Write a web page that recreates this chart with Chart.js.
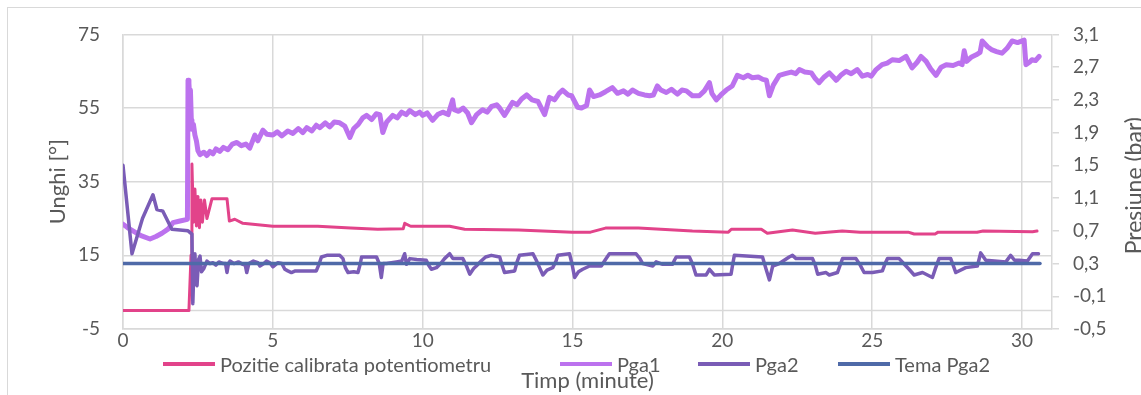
<!DOCTYPE html>
<html lang="ro">
<head>
  <meta charset="UTF-8">
  <title>Pozitie potentiometru si presiune</title>
  <script src="https://cdn.jsdelivr.net/npm/chart.js"></script>
  <style>
    body { margin: 0; background: #fff; font-family: Lato, sans-serif; }
    #wrap { position: relative; width: 1141px; height: 395px; overflow: hidden; }
    #frame { position: absolute; left: 7px; top: 7px; width: 1200px; height: 500px; border: 1.5px solid #d9d9d9; }
    #myChart { position: absolute; left: 0; top: 0; }
    #legend { position: absolute; left: 0; top: 352px; width: 1141px; height: 24px;
              font: 20px Lato, sans-serif; color: #595959; line-height: 24px; white-space: nowrap; }
    #legend .item { position: absolute; top: 0; display: flex; align-items: center; gap: 5px; }
    #legend .swatch { width: 52px; height: 4px; }
  </style>
</head>
<body>
<div id="wrap">
  <div id="frame"></div>
  <canvas id="myChart" width="1141" height="395"></canvas>
  <div id="legend"></div>
</div>

<script>
  // Pozitie calibrata potentiometru (unghi, axa stanga)
  const pozX = [0, 2.2, 2.27, 2.3, 2.35, 2.4, 2.45, 2.5, 2.55, 2.6, 2.65, 2.72, 2.8, 2.97, 3.47, 3.55, 3.73, 4.0,
    5.0, 6.5, 7.6, 8.5, 9.35, 9.4, 9.6, 10.9, 11.4, 13.2, 15.0, 15.6, 16.1, 17.2, 19.0, 20.2, 20.3, 21.3,
    21.5, 22.34, 23.1, 24.0, 24.6, 26.2, 26.4, 27.1, 27.2, 28.5, 28.7, 30.35, 30.5];
  const pozY = [0, 0, 15, 39.8, 24, 33, 23, 31, 22.5, 30, 24, 30, 25, 30.4, 30.4, 24.3, 24.8, 23.7,
    22.9, 22.9, 22.4, 22.1, 22.2, 23.7, 22.9, 22.9, 22.1, 21.9, 21.3, 21.3, 22.4, 22.4, 21.6, 21.3, 22.1, 22.1,
    21.0, 21.9, 21.0, 21.6, 21.3, 21.3, 20.8, 20.8, 21.3, 21.3, 21.6, 21.4, 21.6];

  // Pga1 (bar, axa dreapta)
  const pga1X = [0, 0.15, 0.33, 0.6, 0.9, 1.1, 1.3, 1.5, 1.67, 1.9, 2.15, 2.17, 2.2, 2.23, 2.25, 2.28, 2.3, 2.35, 2.4,
    2.45, 2.5, 2.57, 2.7, 2.8, 2.9, 3.0, 3.1, 3.23, 3.35, 3.5, 3.65, 3.8, 3.95, 4.1, 4.23, 4.4, 4.5, 4.67, 4.8,
    5.0, 5.15, 5.3, 5.5, 5.67, 5.85, 6.0, 6.13, 6.3, 6.45, 6.57, 6.75, 6.9, 7.05, 7.23, 7.4, 7.57, 7.7, 7.85,
    8.0, 8.13, 8.3, 8.45, 8.57, 8.67, 8.8, 9.0, 9.15, 9.3, 9.45, 9.57, 9.75, 9.9, 10.0, 10.15, 10.33, 10.5,
    10.67, 10.85, 11.0, 11.05, 11.2, 11.35, 11.5, 11.63, 11.8, 12.0, 12.15, 12.3, 12.47, 12.57, 12.73, 12.85,
    13.0, 13.15, 13.3, 13.47, 13.65, 13.85, 14.07, 14.23, 14.4, 14.55, 14.67, 14.85, 14.97, 15.17, 15.3,
    15.47, 15.57, 15.7, 15.9, 16.1, 16.33, 16.5, 16.7, 16.85, 17.0, 17.2, 17.4, 17.57, 17.7, 17.83, 17.95,
    18.13, 18.3, 18.5, 18.65, 18.8, 19.0, 19.23, 19.4, 19.57, 19.65, 19.8, 19.95, 20.13, 20.33, 20.5, 20.7,
    20.85, 21.0, 21.2, 21.35, 21.47, 21.57, 21.7, 21.9, 22.1, 22.3, 22.45, 22.57, 22.75, 22.97, 23.1, 23.23,
    23.4, 23.57, 23.7, 23.8, 23.95, 24.13, 24.3, 24.5, 24.67, 24.85, 24.97, 25.13, 25.33, 25.5, 25.67, 25.9,
    26.13, 26.33, 26.5, 26.63, 26.8, 26.95, 27.13, 27.3, 27.47, 27.7, 27.9, 28.0, 28.07, 28.15, 28.3, 28.47,
    28.6, 28.67, 28.85, 29.0, 29.15, 29.33, 29.5, 29.67, 29.85, 30.07, 30.13, 30.25, 30.33, 30.45, 30.57];
  const pga1Y = [0.78, 0.74, 0.70, 0.64, 0.60, 0.63, 0.67, 0.72, 0.80, 0.82, 0.84, 2.54, 2.50, 2.30, 2.42, 2.05, 1.94, 2.00, 1.87,
    1.80, 1.68, 1.63, 1.66, 1.62, 1.67, 1.64, 1.70, 1.67, 1.72, 1.69, 1.76, 1.78, 1.74, 1.76, 1.71, 1.87, 1.80, 1.93, 1.88,
    1.87, 1.91, 1.86, 1.92, 1.89, 1.95, 1.90, 1.96, 1.92, 1.99, 1.96, 2.02, 1.97, 2.03, 2.02, 1.98, 1.84, 1.95, 2.00,
    2.08, 2.11, 2.06, 2.13, 2.12, 1.90, 2.03, 2.11, 2.08, 2.15, 2.12, 2.17, 2.12, 2.15, 2.11, 2.14, 2.05, 2.12,
    2.15, 2.12, 2.30, 2.18, 2.16, 2.20, 2.14, 2.02, 2.12, 2.18, 2.15, 2.22, 2.24, 2.20, 2.11, 2.18,
    2.27, 2.24, 2.31, 2.36, 2.30, 2.28, 2.12, 2.33, 2.30, 2.38, 2.42, 2.36, 2.35, 2.21, 2.20,
    2.23, 2.42, 2.34, 2.36, 2.40, 2.45, 2.38, 2.41, 2.37, 2.42, 2.38, 2.36, 2.35, 2.36, 2.47, 2.42,
    2.39, 2.43, 2.37, 2.42, 2.41, 2.35, 2.35, 2.41, 2.51, 2.38, 2.30, 2.36, 2.42, 2.47, 2.60, 2.57,
    2.60, 2.57, 2.58, 2.55, 2.54, 2.35, 2.48, 2.60, 2.62, 2.64, 2.62, 2.67, 2.64, 2.63, 2.56, 2.51,
    2.58, 2.63, 2.58, 2.54, 2.60, 2.65, 2.62, 2.67, 2.59, 2.61, 2.59, 2.67, 2.73, 2.75, 2.79, 2.78,
    2.83, 2.69, 2.76, 2.83, 2.77, 2.68, 2.60, 2.70, 2.73, 2.72, 2.75, 2.73, 2.90, 2.77, 2.82, 2.85,
    2.88, 3.02, 2.95, 2.91, 2.89, 2.87, 2.93, 3.02, 3.00, 3.03, 2.73, 2.76, 2.79, 2.78, 2.83];

  // Pga2 (bar, axa dreapta)
  const pga2X = [0, 0.3, 0.65, 1.0, 1.13, 1.33, 1.63, 2.17, 2.3, 2.33, 2.37, 2.4, 2.44, 2.47, 2.52, 2.57, 2.62,
    2.7, 2.8, 2.9, 3.0, 3.1, 3.2, 3.35, 3.42, 3.47, 3.52, 3.57, 3.7, 3.85, 4.0, 4.08, 4.13, 4.2, 4.35, 4.5,
    4.57, 4.7, 4.79, 4.9, 5.0, 5.1, 5.17, 5.3, 5.4, 5.5, 5.62, 5.75, 5.9, 6.45, 6.55, 6.62, 6.8, 7.23, 7.34,
    7.42, 7.51, 7.7, 7.84, 7.92, 7.96, 8.2, 8.46, 8.55, 8.62, 8.68, 8.79, 9.12, 9.3, 9.4, 9.46, 9.57, 9.8,
    10.12, 10.2, 10.29, 10.46, 10.6, 10.73, 10.9, 11.01, 11.34, 11.45, 11.57, 11.7, 11.79, 11.95, 12.1, 12.29,
    12.57, 12.65, 12.73, 13.07, 13.15, 13.23, 13.68, 13.79, 13.9, 14.01, 14.15, 14.34, 14.45, 14.51, 14.9,
    14.98, 15.07, 15.2, 15.34, 15.57, 15.96, 16.1, 16.23, 17.12, 17.25, 17.34, 17.68, 17.79, 18.01, 18.34,
    18.4, 18.46, 18.9, 19.0, 19.12, 19.46, 19.57, 19.73, 20.29, 20.35, 20.4, 21.34, 21.46, 21.57, 21.68,
    21.9, 22.23, 22.34, 22.46, 23.01, 23.1, 23.18, 23.46, 23.57, 23.84, 23.93, 24.01, 24.46, 24.6, 24.73,
    25.01, 25.34, 25.43, 25.51, 25.9, 26.05, 26.23, 26.4, 26.68, 27.01, 27.12, 27.23, 27.62, 27.7, 27.79,
    28.12, 28.51, 28.62, 28.79, 29.46, 29.62, 29.75, 29.9, 30.18, 30.35, 30.55];
  const pga2Y = [1.50, 0.42, 0.85, 1.14, 0.96, 0.94, 0.72, 0.70, 0.66, -0.19, 0.30, 0.42, 0.05, 0.03, 0.35, 0.39, 0.20,
    0.24, 0.33, 0.30, 0.31, 0.28, 0.32, 0.30, 0.30, 0.19, 0.30, 0.33, 0.30, 0.32, 0.29, 0.28, 0.19, 0.30, 0.33, 0.31,
    0.27, 0.30, 0.33, 0.31, 0.26, 0.29, 0.31, 0.30, 0.23, 0.21, 0.19, 0.21, 0.21, 0.21, 0.30, 0.38, 0.40, 0.40, 0.36,
    0.25, 0.19, 0.20, 0.19, 0.30, 0.38, 0.38, 0.38, 0.30, 0.13, 0.30, 0.30, 0.32, 0.33, 0.42, 0.29, 0.36, 0.35,
    0.34, 0.28, 0.23, 0.25, 0.30, 0.36, 0.42, 0.36, 0.36, 0.28, 0.17, 0.24, 0.27, 0.33, 0.38, 0.40,
    0.38, 0.28, 0.19, 0.21, 0.32, 0.40, 0.42, 0.34, 0.25, 0.16, 0.22, 0.25, 0.33, 0.40, 0.42,
    0.30, 0.13, 0.20, 0.23, 0.27, 0.27, 0.35, 0.42, 0.42, 0.36, 0.30, 0.27, 0.32, 0.29, 0.29,
    0.34, 0.38, 0.38, 0.30, 0.16, 0.16, 0.23, 0.16, 0.17, 0.30, 0.40, 0.38, 0.23, 0.10, 0.27,
    0.30, 0.38, 0.40, 0.36, 0.36, 0.28, 0.17, 0.19, 0.16, 0.19, 0.28, 0.36, 0.36, 0.28, 0.19,
    0.19, 0.21, 0.30, 0.36, 0.36, 0.30, 0.23, 0.16, 0.19, 0.13, 0.25, 0.36, 0.36, 0.28, 0.19,
    0.25, 0.27, 0.43, 0.34, 0.32, 0.40, 0.34, 0.34, 0.33, 0.42, 0.42];

  // Tema Pga2 (bar, axa dreapta)
  const temaX = [0, 30.6];
  const temaY = [0.3, 0.3];

  const seriesNames = ['Pozitie calibrata potentiometru', 'Pga1', 'Pga2', 'Tema Pga2'];
  const seriesColors = ['#E2438A', '#BC72EE', '#7A5CB6', '#4F6AA8'];

  const leftTicks = [-5, 15, 35, 55, 75];
  const rightTicks = [-0.5, -0.1, 0.3, 0.7, 1.1, 1.5, 1.9, 2.3, 2.7, 3.1];
  const xTicks = [0, 5, 10, 15, 20, 25, 30];

  // where each legend entry starts (px)
  const legendLeft = [163, 560, 698, 838];

  const pts = (xs, ys) => xs.map((x, i) => ({ x: x, y: ys[i] }));

  const textColor = '#595959';
  const gridColor = '#d9d9d9';

  // horizontal axis line at y = 0 (Excel crosses the axis at 0)
  const zeroLine = {
    id: 'zeroLine',
    beforeDatasetsDraw(chart) {
      const { ctx, chartArea } = chart;
      const y = chart.scales.yL.getPixelForValue(0);
      ctx.save();
      ctx.strokeStyle = gridColor;
      ctx.lineWidth = 1.5;
      ctx.beginPath();
      ctx.moveTo(chartArea.left, y);
      ctx.lineTo(chartArea.right, y);
      ctx.stroke();
      ctx.restore();
    }
  };

  // right title reads bottom-to-top like the left one
  const rightTitle = {
    id: 'rightTitle',
    afterDraw(chart) {
      const { ctx, chartArea } = chart;
      ctx.save();
      ctx.translate(1135, (chartArea.top + chartArea.bottom) / 2 + 4);
      ctx.rotate(-Math.PI / 2);
      ctx.font = '23px Lato, sans-serif';
      ctx.fillStyle = textColor;
      ctx.textAlign = 'center';
      ctx.textBaseline = 'middle';
      ctx.fillText('Presiune (bar)', 0, 0);
      ctx.restore();
    }
  };

  const ctx = document.getElementById('myChart').getContext('2d');

  const myChart = new Chart(ctx, {
    type: 'line',
    data: {
      datasets: [
        { label: seriesNames[0], data: pts(pozX, pozY), yAxisID: 'yL', borderColor: seriesColors[0], borderWidth: 3, order: 3 },
        { label: seriesNames[1], data: pts(pga1X, pga1Y), yAxisID: 'yR', borderColor: seriesColors[1], borderWidth: 5, order: 2 },
        { label: seriesNames[2], data: pts(pga2X, pga2Y), yAxisID: 'yR', borderColor: seriesColors[2], borderWidth: 3.5, order: 1 },
        { label: seriesNames[3], data: pts(temaX, temaY), yAxisID: 'yR', borderColor: seriesColors[3], borderWidth: 3.5, order: 0 }
      ].map(d => Object.assign(d, { pointRadius: 0, tension: 0, fill: false, borderJoinStyle: 'round', borderCapStyle: 'round' }))
    },
    options: {
      responsive: false,
      animation: false,
      layout: { padding: { top: 31, left: 0, right: 0, bottom: 0 } },
      plugins: {
        legend: { display: false },
        tooltip: { enabled: false }
      },
      scales: {
        x: {
          type: 'linear',
          min: 0,
          max: 31,
          afterBuildTicks: s => { s.ticks = xTicks.map(v => ({ value: v })); },
          afterFit: s => { s.height = 66; },
          grid: { color: gridColor, lineWidth: 1.5, drawTicks: false },
          border: { color: gridColor, width: 1.5 },
          ticks: { color: textColor, font: { family: 'Lato', size: 19 }, padding: 0, maxRotation: 0 },
          title: { display: true, text: 'Timp (minute)', color: textColor, font: { family: 'Lato', size: 22 }, padding: { top: 0, bottom: 1 } }
        },
        yL: {
          position: 'left',
          min: -5,
          max: 75,
          afterBuildTicks: s => { s.ticks = leftTicks.map(v => ({ value: v })); },
          afterFit: s => { s.width = 123; },
          grid: { color: gridColor, lineWidth: 1.5, drawTicks: false },
          border: { color: gridColor, width: 1.5 },
          ticks: { color: textColor, font: { family: 'Lato', size: 19 }, padding: 23 },
          title: { display: true, text: 'Unghi [°]', color: textColor, font: { family: 'Lato', size: 22 }, padding: { top: 45, bottom: 0 } }
        },
        yR: {
          position: 'right',
          min: -0.5,
          max: 3.1,
          afterBuildTicks: s => { s.ticks = rightTicks.map(v => ({ value: v })); },
          afterFit: s => { s.width = 89; },
          grid: { drawOnChartArea: false, color: gridColor, lineWidth: 1.5, tickLength: 7 },
          border: { color: gridColor, width: 1.5 },
          ticks: {
            color: textColor, font: { family: 'Lato', size: 19 }, padding: 14,
            callback: v => v.toFixed(1).replace('.', ',')
          }
        }
      }
    },
    plugins: [zeroLine, rightTitle]
  });

  // legend in the series order, under the x tick labels
  const legendBox = document.getElementById('legend');
  myChart.data.datasets.forEach((ds, i) => {
    const item = document.createElement('div');
    item.className = 'item';
    item.style.left = legendLeft[i] + 'px';
    const sw = document.createElement('span');
    sw.className = 'swatch';
    sw.style.background = ds.borderColor;
    const txt = document.createElement('span');
    txt.textContent = ds.label;
    item.appendChild(sw);
    item.appendChild(txt);
    legendBox.appendChild(item);
  });
</script>
</body>
</html>
